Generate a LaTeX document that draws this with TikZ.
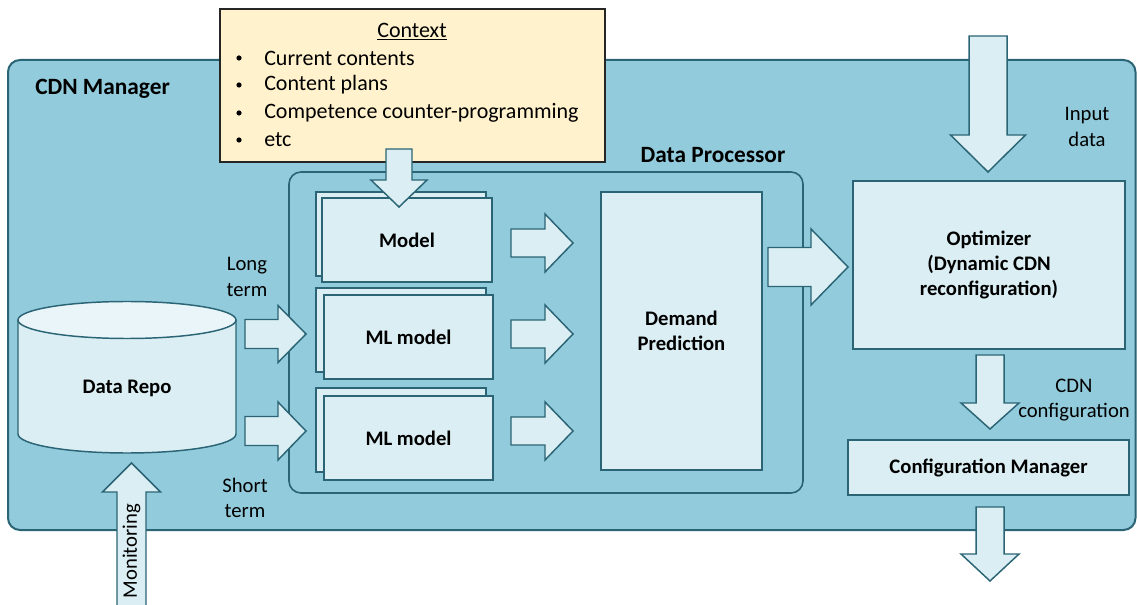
\documentclass[tikz,border=0pt]{standalone}
\usepackage{fontspec}
\setmainfont{Carlito}
\usetikzlibrary{fit}

\definecolor{mgr}{HTML}{92CBDB}
\definecolor{light}{HTML}{DAEEF3}
\definecolor{edge}{HTML}{2B6575}
\definecolor{ctx}{HTML}{FFF2CC}
\definecolor{cyltop}{HTML}{E9F5F9}

\tikzset{
  lbl/.style={font=\fontsize{15.5}{19}\selectfont, align=center, inner sep=0},
  boldlbl/.style={font=\bfseries\fontsize{15.5}{19}\selectfont, align=center},
  heading/.style={font=\bfseries\fontsize{17.5}{21}\selectfont, inner sep=0},
  panel/.style={draw=edge, line width=1.5pt, fill=mgr, rounded corners=9pt},
  box/.style={draw=edge, line width=1.1pt, fill=light, inner sep=0},
  blockarrow/.style={draw=edge, line width=1.1pt, fill=light, line join=miter},
}

% horizontal block arrow: tail x, head-base x, tip x, centre y, shaft half-width, head half-width
\newcommand{\harrow}[6]{%
  \draw[blockarrow] (#1,{#4-#5}) -- (#2,{#4-#5}) -- (#2,{#4-#6}) -- (#3,#4)
    -- (#2,{#4+#6}) -- (#2,{#4+#5}) -- (#1,{#4+#5}) -- cycle;}
% vertical block arrow: tail y, head-base y, tip y, centre x, shaft half-width, head half-width
\newcommand{\varrow}[6]{%
  \draw[blockarrow] ({#4-#5},#1) -- ({#4-#5},#2) -- ({#4-#6},#2) -- (#4,#3)
    -- ({#4+#6},#2) -- ({#4+#5},#2) -- ({#4+#5},#1) -- cycle;}

\begin{document}
\begin{tikzpicture}[x=0.75pt, y=-0.75pt]
  \clip (0,0) rectangle (1137,605);
  \fill[white] (0,0) rectangle (1137,605);

  % CDN manager panel
  \draw[panel] (8,60) rectangle (1135.5,530);
  \node[heading, anchor=west] (mgrlabel) at (35,89) {CDN Manager};

  % data processor panel
  \draw[panel, line width=1.2pt] (289,172) rectangle (803,493);
  \node[heading] (dplabel) at (713,155) {Data Processor};

  % model stacks
  \node[box, fit={(316,192)(486,276)}] (modelback) {};
  \node[box, fit={(322,198)(492,282)}] (model) {};
  \node[boldlbl] (modellbl) at (model.center) {Model};
  \node[box, fit={(316,288)(486,372)}] (ml1back) {};
  \node[box, fit={(324,295)(493,379)}] (ml1) {};
  \node[boldlbl] (ml1lbl) at (ml1.center) {ML model};
  \node[box, fit={(316,388)(486,472)}] (ml2back) {};
  \node[box, fit={(324,396)(493,480)}] (ml2) {};
  \node[boldlbl] (ml2lbl) at (ml2.center) {ML model};

  % demand prediction
  \node[box, fit={(601,192)(762,470)}] (dp) {};
  \node[boldlbl] (dplbl) at (dp.center) {Demand\\Prediction};

  % arrows from the models into the prediction
  \harrow{511}{545}{573}{243}{14}{29}
  \harrow{511}{545}{573}{334}{14}{29}
  \harrow{511}{545}{573}{431}{14}{29}

  % optimizer and configuration manager
  \node[box, fit={(853,181)(1125,349)}] (opt) {};
  \node[boldlbl] (optlbl) at (opt.center) {Optimizer\\(Dynamic CDN\\reconfiguration)};
  \node[box, fit={(848,440)(1129,495)}] (cfg) {};
  \node[boldlbl] (cfglbl) at (cfg.center) {Configuration Manager};

  % prediction feeds the optimizer
  \harrow{768}{811}{848}{267}{19.5}{38}

  % data repository cylinder
  \path[fill=light, draw=edge, line width=1.1pt] (18,320) -- (18,434)
    arc[start angle=180, delta angle=-180, x radius=109, y radius=19] -- (236,320);
  \draw[fill=cyltop, draw=edge, line width=1.1pt] (127,320) ellipse[x radius=109, y radius=18.5];
  \node[boldlbl] (repo) at (127,388) {Data Repo};

  % long and short term feeds
  \harrow{245}{278}{306}{334}{14.5}{28.5}
  \harrow{245}{278}{306}{431}{14.5}{29}
  \node[lbl] (longlbl) at (247,277) {Long\\term};
  \node[lbl] (shortlbl) at (245,498) {Short\\term};

  % context box
  \node[draw=black!85, line width=0.9pt, fill=ctx, inner sep=0,
        fit={(220,9)(605,162)}] (ctxbox) {};
  \begin{scope}[font=\fontsize{16.5}{20}\selectfont]
    \node (ctxtitle) at (412,32) {\underline{Context}};
    \foreach \yy/\txt [count=\i] in {58/Current contents, 85/Content plans,
        113/Competence counter-programming, 140/etc} {
      \fill (239,\yy) circle[radius=2.6] coordinate (bul\i);
      \node[anchor=west, inner sep=0] (item\i) at (264,\yy) {\txt};
    }
  \end{scope}
  \varrow{149}{180}{207}{399}{13}{28}

  % optimizer input and output arrows
  \varrow{36}{135}{172}{988}{19}{37.5}
  \node[lbl] (inlbl) at (1087,127) {Input\\data};
  \varrow{355}{403}{429}{990}{14}{29}
  \node[lbl] (cdnlbl) at (1074,400) {CDN\\configuration};
  \varrow{507}{554}{581}{990}{14}{29}

  % monitoring feed into the repository
  \varrow{612}{492}{463}{131.5}{14.5}{29}
  \node[lbl, rotate=90] (monlbl) at (131.5,551) {Monitoring};
\end{tikzpicture}
\end{document}
